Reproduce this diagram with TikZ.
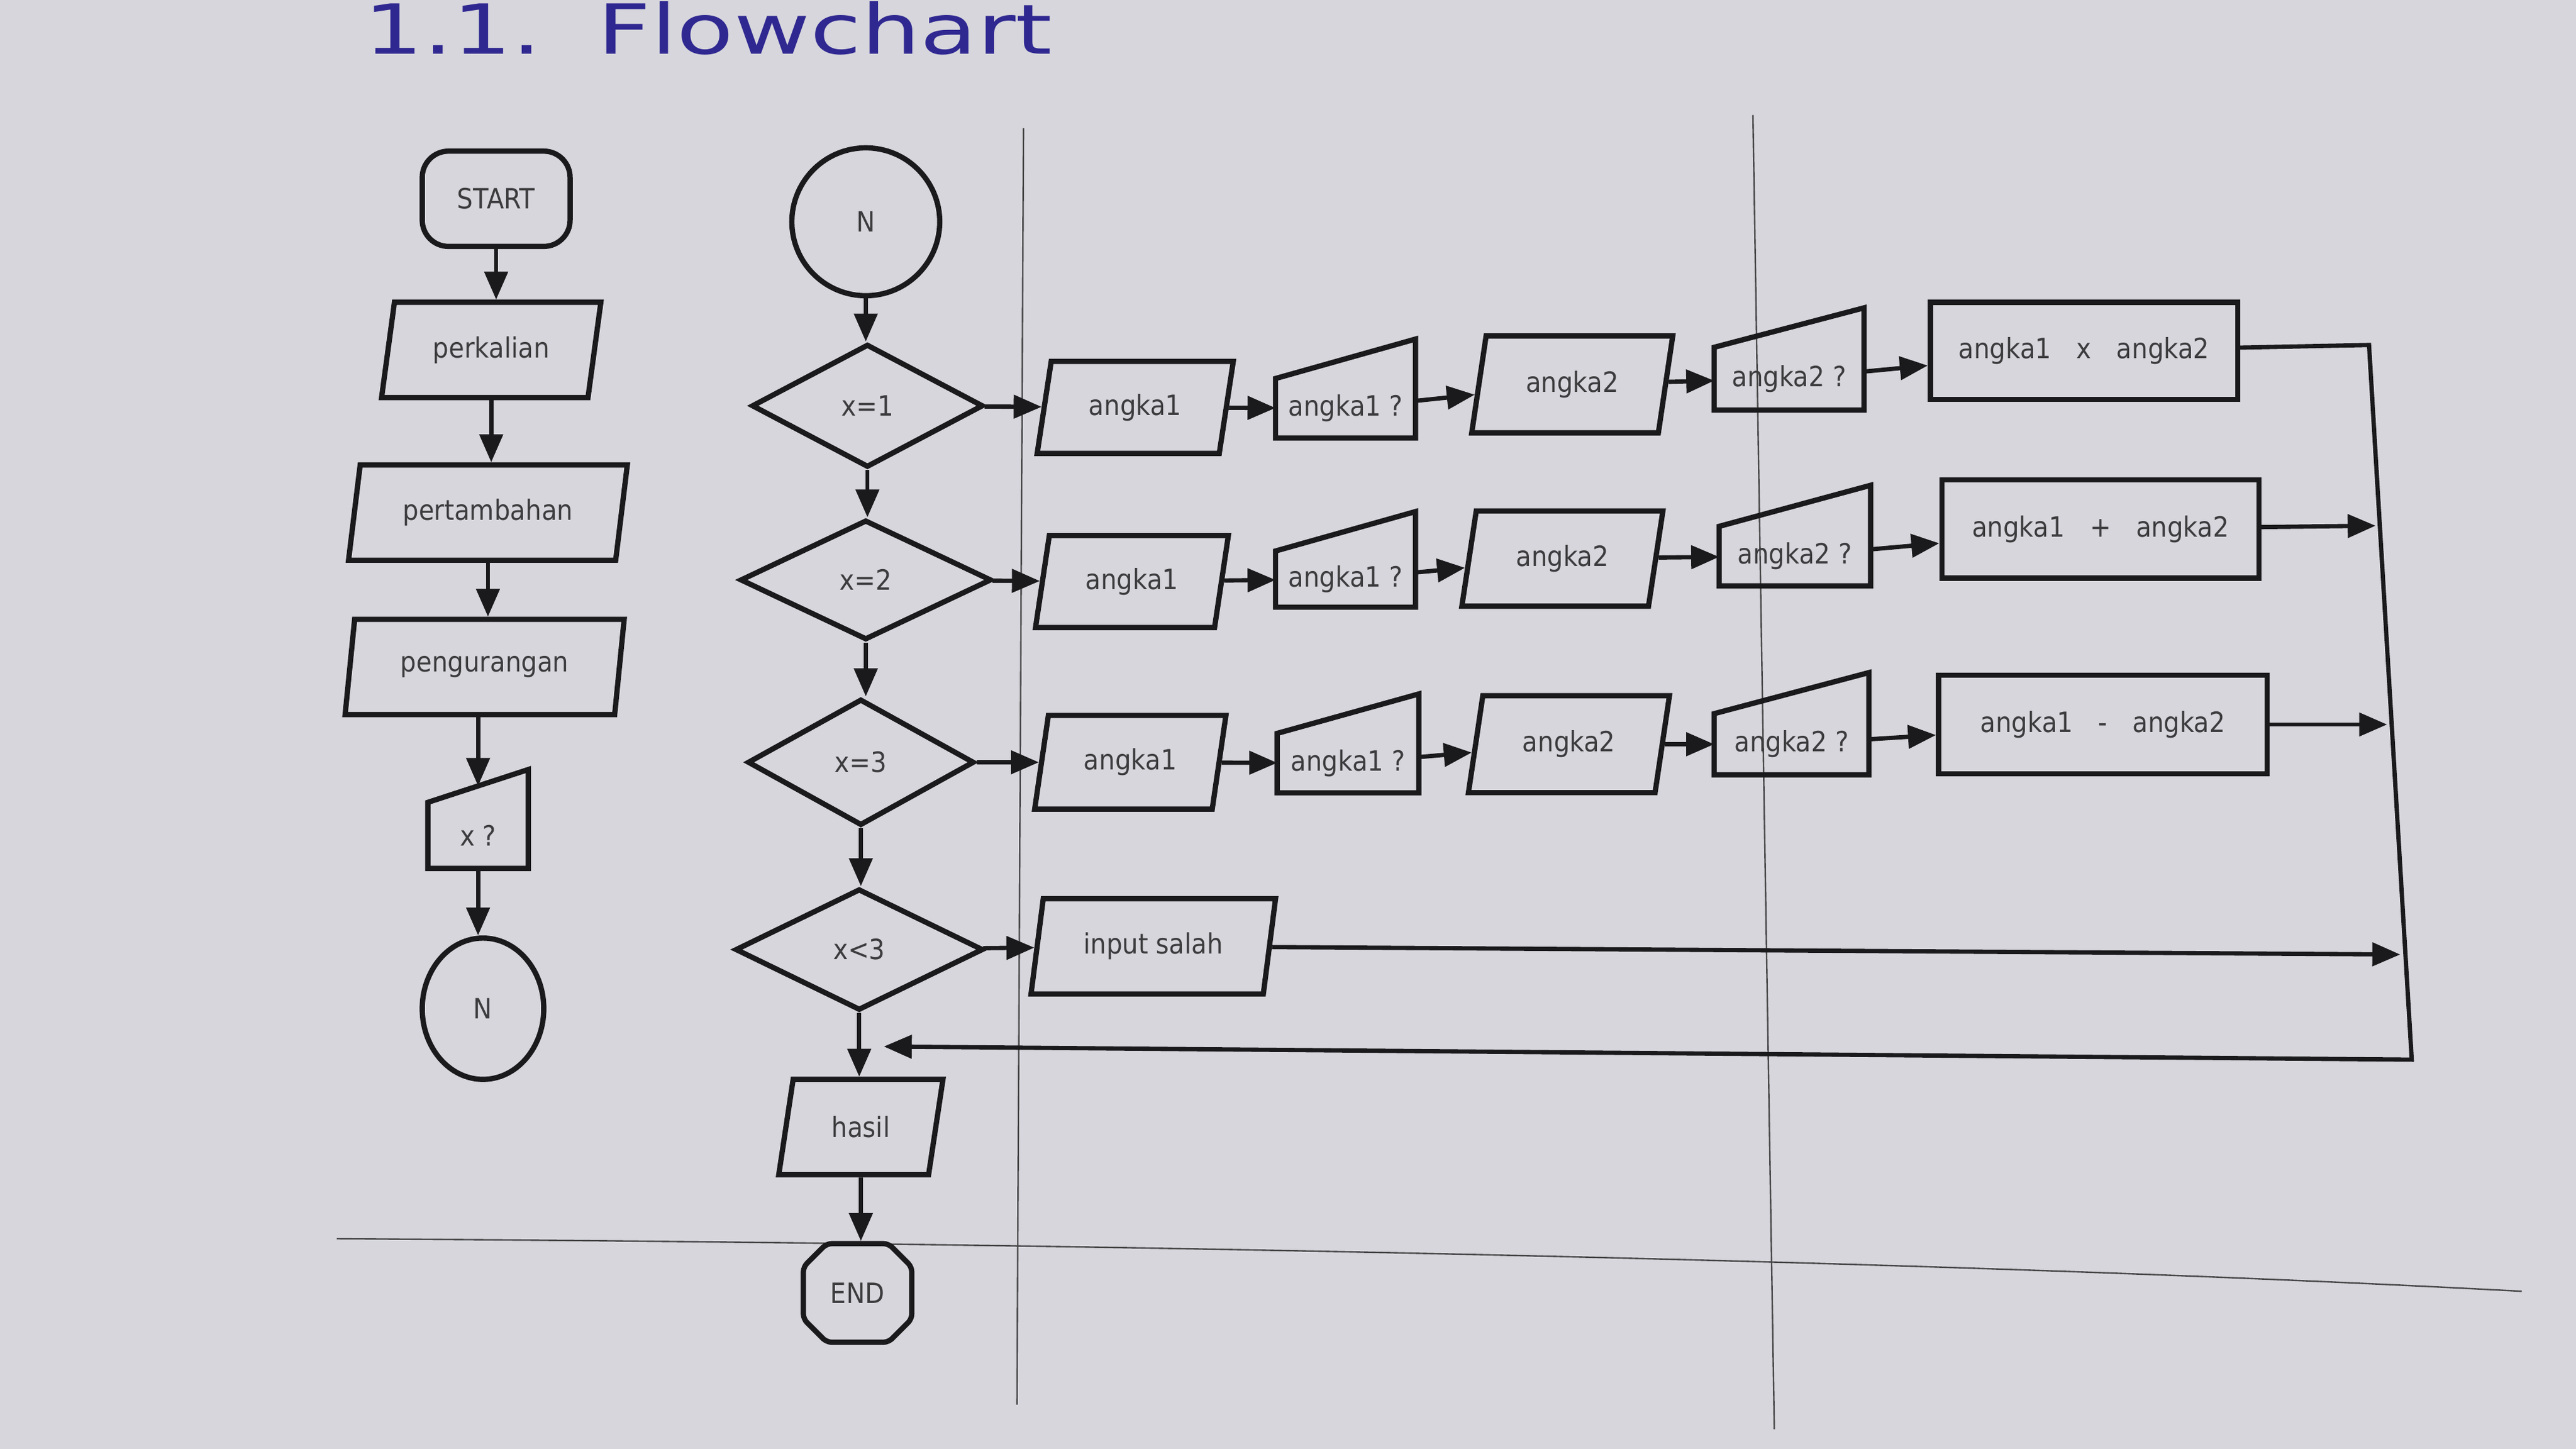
\documentclass[tikz,border=0pt]{standalone}
\usepackage{fontspec}
\setmainfont{DejaVu Sans}[FakeStretch=0.9]
\newfontfamily\titlefont{DejaVu Sans}[FakeStretch=1.35]
\usetikzlibrary{positioning}
\usetikzlibrary{shapes.geometric}
\usetikzlibrary{shapes.misc}
\usetikzlibrary{arrows.meta}
\usetikzlibrary{calc}
\definecolor{paper}{RGB}{214,214,220}
\definecolor{ink}{RGB}{26,26,28}
\definecolor{pen}{RGB}{48,40,145}

\tikzset{
  box/.style={draw=ink, line width=3.2pt, text=ink!85, font=\fontsize{17}{17}\selectfont, inner sep=0pt},
  terminal/.style={box, rectangle, rounded corners=16pt, minimum width=90pt, minimum height=58pt},
  stop/.style={box, chamfered rectangle, chamfered rectangle xsep=8pt, chamfered rectangle ysep=8pt, rounded corners=3pt, minimum width=66pt, minimum height=60pt},
  io/.style={box, trapezium, trapezium left angle=74, trapezium right angle=106, trapezium stretches=true, minimum height=58pt},
  decide/.style={box, diamond, minimum height=75pt},
  proc/.style={box, rectangle, minimum height=60pt},
  manin/.style={box, draw=none, rectangle, minimum width=84pt, minimum height=33pt},
  conn/.style={box, circle, minimum size=90pt},
  shapeline/.style={draw=ink, line width=3.2pt, line join=miter},
  flow/.style={draw=ink, line width=2.6pt, -{Triangle[length=17pt,width=14pt]}},
  page/.style={draw=ink!80, line width=0.9pt},
}

\begin{document}
\begin{tikzpicture}[x=1pt,y=1pt,yscale=-1,xscale=1]
\fill[paper] (0,0) rectangle (1568,882);
\useasboundingbox (0,0) rectangle (1568,882);

% page rulings
\draw[page] (623,78) -- (619,855);
\draw[page] (1067,70) -- (1080,870);
\draw[page] (205,754) .. controls (700,757) and (1200,768) .. (1535,786);

% title
\node[anchor=base west, text=pen, font=\titlefont\fontsize{42}{42}\selectfont] (title) at (218,33) {1.1.\hspace{34pt}Flowchart};

% left column
\node[terminal] (start) at (302,121) {START};
\node[io, minimum width=134pt] (kali) at (299,213) {perkalian};
\node[io, minimum width=170pt] (tambah) at (297,312) {pertambahan};
\node[io, minimum width=170pt] (kurang) at (295,406) {pengurangan};
\node[manin, minimum width=58pt, minimum height=37pt] (xq) at (291,508.5) {x ?};
\node[box, ellipse, minimum width=74pt, minimum height=86pt] (nout) at (294,614) {N};

% main column
\node[conn] (nin) at (527,135) {N};
\node[decide, minimum width=141pt] (d1) at (528,247) {x=1};
\node[decide, minimum width=153pt, minimum height=73pt] (d2) at (527,353) {x=2};
\node[decide, minimum width=138pt, minimum height=77pt] (d3) at (524,464) {x=3};
\node[decide, minimum width=151pt, minimum height=74pt] (d4) at (523,578) {x<3};
\node[io, minimum width=100pt] (hasil) at (524,686) {hasil};
\node[stop] (end) at (522,787) {END};

% rows
\node[io, minimum width=120pt, minimum height=56pt] (a11) at (691,248) {angka1};
\node[manin, minimum width=82pt] (q11) at (819,248.5) {angka1 ?};
\node[io, minimum width=123pt, minimum height=59pt] (a12) at (957,234) {angka2};
\node[manin, minimum width=88pt, minimum height=35pt] (q12) at (1089,230.5) {angka2 ?};
\node[proc, minimum width=187pt, minimum height=59pt] (r1) at (1268.5,213.5) {angka1\hspace{0.9em}x\hspace{0.9em}angka2};

\node[io, minimum width=118pt, minimum height=56pt] (a21) at (689,354) {angka1};
\node[manin, minimum width=82pt, minimum height=31pt] (q21) at (819,352.5) {angka1 ?};
\node[io, minimum width=123pt] (a22) at (951,340) {angka2};
\node[manin, minimum width=89pt] (q22) at (1092.5,338.5) {angka2 ?};
\node[proc, minimum width=193pt] (r2) at (1278.5,322) {angka1\hspace{0.9em}+\hspace{0.9em}angka2};

\node[io, minimum width=117pt, minimum height=57pt] (a31) at (688,464) {angka1};
\node[manin, minimum width=83pt] (q31) at (820.5,464.5) {angka1 ?};
\node[io, minimum width=123pt, minimum height=59pt] (a32) at (955,453) {angka2};
\node[manin, minimum width=91pt, minimum height=34pt] (q32) at (1090.5,453) {angka2 ?};
\node[proc, minimum width=200pt] (r3) at (1280,441) {angka1\hspace{0.9em}-\hspace{0.9em}angka2};

\node[io, minimum width=149pt] (salah) at (702,576) {input salah};

% manual input outlines
\foreach \n/\r in {xq/20,q11/24,q12/24,q21/24,q22/25,q31/24,q32/25}
  \draw[shapeline] (\n.south west) -- (\n.south east) -- ($(\n.north east)+(0,-\r)$) -- (\n.north west) -- cycle;

% return line ends
\coordinate (c1) at (1442,210);
\coordinate (c2) at (1468,645);
\coordinate (join) at (538,637);
\coordinate (e2) at (1446,320);
\coordinate (e3) at (1453,441);
\coordinate (e4) at (1461,581);

% connectors
\draw[flow] (start.south) -- (start.south |- kali.north);
\draw[flow] (kali.south) -- (kali.south |- tambah.north);
\draw[flow] (tambah.south) -- (tambah.south |- kurang.north);
\draw[flow, shorten >=10pt] (kurang.south -| xq.north) -- (xq.north);
\draw[flow] (xq.south) -- (xq.south |- nout.north);

\draw[flow] (nin.south) -- (nin.south |- d1.north);
\draw[flow] (d1.south) -- (d1.south |- d2.north);
\draw[flow] (d2.south) -- (d2.south |- d3.north);
\draw[flow] (d3.south) -- (d3.south |- d4.north);
\draw[flow] (d4.south) -- (d4.south |- hasil.north);
\draw[flow] (hasil.south) -- (hasil.south |- end.north);

\draw[flow] (d1) -- (a11);
\draw[flow] (a11) -- (q11);
\draw[flow] (q11) -- (a12);
\draw[flow] (a12) -- (q12);
\draw[flow] (q12) -- (r1);

\draw[flow] (d2) -- (a21);
\draw[flow] (a21) -- (q21);
\draw[flow] (q21) -- (a22);
\draw[flow] (a22) -- (q22);
\draw[flow] (q22) -- (r2);

\draw[flow] (d3) -- (a31);
\draw[flow] (a31) -- (q31);
\draw[flow] (q31) -- (a32);
\draw[flow] (a32) -- (q32);
\draw[flow] (q32) -- (r3);

\draw[flow] (d4) -- (salah);

\draw[flow] (r1) -- (c1) -- (c2) -- (join);
\draw[flow] (r2) -- (e2);
\draw[flow] (r3) -- (e3);
\draw[flow] (salah) -- (e4);

\end{tikzpicture}
\end{document}
